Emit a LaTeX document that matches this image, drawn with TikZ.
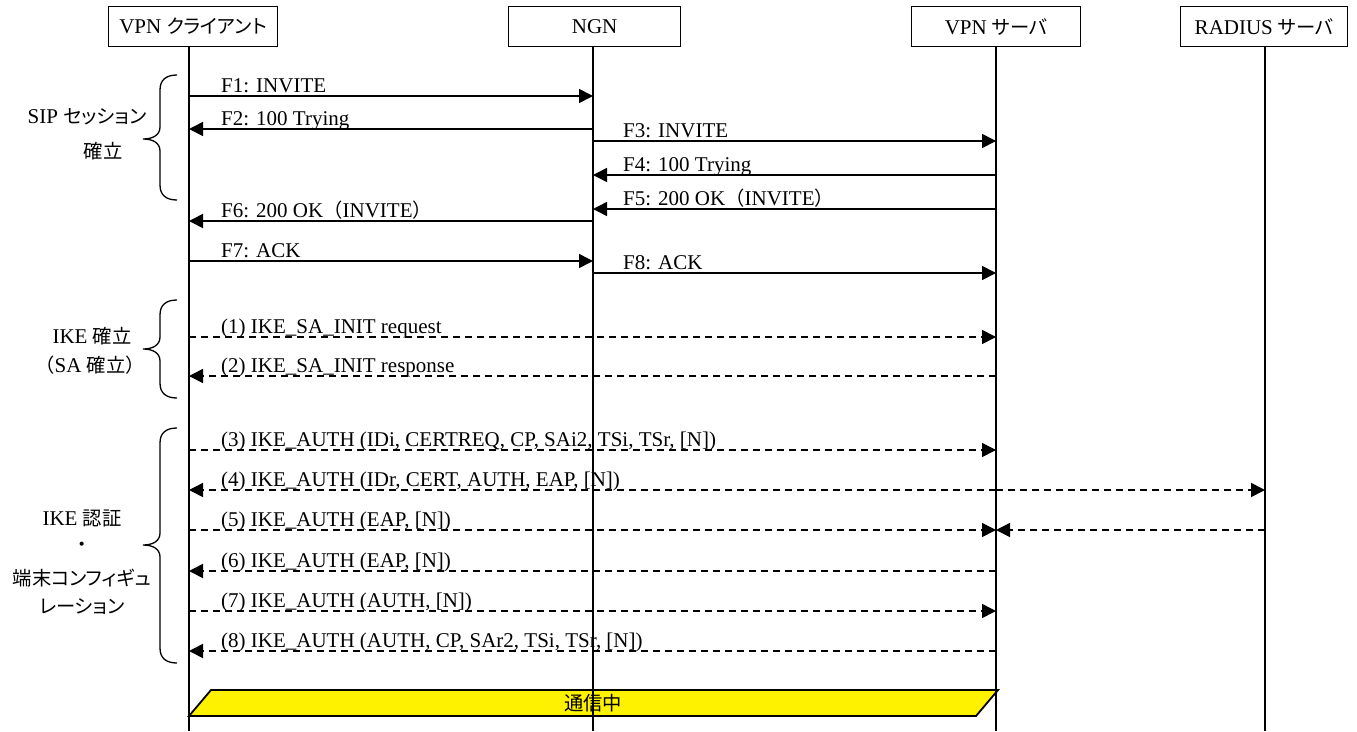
\documentclass[tikz,border=0pt]{standalone}
\usepackage{fontspec}
\setmainfont{Liberation Serif}
\newfontfamily\jp[Scale=0.92,RawFeature={+palt}]{Noto Sans CJK JP}
\newfontfamily\jpf[Scale=0.92]{Noto Sans CJK JP}
\usetikzlibrary{arrows.meta}
\newcommand{\grpbrace}[3]{%
  \draw[brc] (177,#1) .. controls (166,#1) and (160,#1+5) .. (160,#1+15)
    -- (160,#2-12) .. controls (160,#2-4) and (153,#2) .. (143,#2)
    .. controls (153,#2) and (160,#2+4) .. (160,#2+12)
    -- (160,#3-15) .. controls (160,#3-5) and (166,#3) .. (177,#3);}
\begin{document}
\begin{tikzpicture}[x=1pt,y=-1pt,
  txt/.style={font=\fontsize{21}{25}\selectfont, inner sep=0pt},
  box/.style={txt, draw, line width=1.2pt, minimum width=#1, minimum height=40pt, anchor=north west},
  lbl/.style={txt, anchor=base west},
  life/.style={line width=1.3pt},
  msg/.style={line width=1.6pt, -{Triangle[length=14pt,width=14pt]}},
  dmsg/.style={msg, dash pattern=on 7pt off 5pt},
  grp/.style={txt, align=center},
  brc/.style={line width=1.3pt}
]
\useasboundingbox (0,0) rectangle (1357,731);

% participants
\node[box=169] (client) at (108,6) {VPN {\jp クライアント}};
\node[box=172] (ngn) at (508,6) {NGN};
\node[box=169] (server) at (911,6) {VPN {\jp サーバ}};
\node[box=167] (radius) at (1180,6) {RADIUS {\jp サーバ}};

% communicating bar
\draw[line width=1.8pt, fill=yellow] (211,690) -- (998,690) -- (976,716) -- (189,716) -- cycle;
\node[txt] (comm) at (593,703) {\jp 通信中};

% lifelines
\coordinate (Ct) at (189,46); \coordinate (Cb) at (189,731);
\coordinate (Nt) at (593,46); \coordinate (Nb) at (593,731);
\coordinate (St) at (996,46); \coordinate (Sb) at (996,731);
\coordinate (Rt) at (1265,46); \coordinate (Rb) at (1265,731);
\draw[life] (Ct) -- (Cb);
\draw[life] (Nt) -- (Nb);
\draw[life] (St) -- (Sb);
\draw[life] (Rt) -- (Rb);

% message rows
\foreach \r/\y in {1/96,2/129,3/141,4/175,5/209,6/221,7/261,8/273,i1/337,i2/376,a3/450,a4/490,a5/530,a6/571,a7/611,a8/651}{
  \coordinate (C\r) at (189,\y);
  \coordinate (N\r) at (593,\y);
  \coordinate (S\r) at (996,\y);
  \coordinate (R\r) at (1265,\y);
}

% SIP
\draw[msg] (C1) -- (N1);
\node[lbl] (l1) at ([xshift=32pt,yshift=4pt]C1) {F1: INVITE};
\draw[msg] (N2) -- (C2);
\node[lbl] (l2) at ([xshift=32pt,yshift=4pt]C2) {F2: 100 Trying};
\draw[msg] (N3) -- (S3);
\node[lbl] (l3) at ([xshift=30pt,yshift=4pt]N3) {F3: INVITE};
\draw[msg] (S4) -- (N4);
\node[lbl] (l4) at ([xshift=30pt,yshift=4pt]N4) {F4: 100 Trying};
\draw[msg] (S5) -- (N5);
\node[lbl] (l5) at ([xshift=30pt,yshift=4pt]N5) {F5: 200 OK{\jpf （}INVITE{\jpf ）}};
\draw[msg] (N6) -- (C6);
\node[lbl] (l6) at ([xshift=32pt,yshift=4pt]C6) {F6: 200 OK{\jpf （}INVITE{\jpf ）}};
\draw[msg] (C7) -- (N7);
\node[lbl] (l7) at ([xshift=32pt,yshift=4pt]C7) {F7: ACK};
\draw[msg] (N8) -- (S8);
\node[lbl] (l8) at ([xshift=30pt,yshift=4pt]N8) {F8: ACK};

% IKE SA INIT
\draw[dmsg] (Ci1) -- (Si1);
\node[lbl] (m1) at ([xshift=32pt,yshift=4pt]Ci1) {(1) IKE\_SA\_INIT request};
\draw[dmsg] (Si2) -- (Ci2);
\node[lbl] (m2) at ([xshift=32pt,yshift=4pt]Ci2) {(2) IKE\_SA\_INIT response};

% IKE AUTH
\draw[dmsg] (Ca3) -- (Sa3);
\node[lbl] (m3) at ([xshift=32pt,yshift=4pt]Ca3) {(3) IKE\_AUTH (IDi, CERTREQ, CP, SAi2, TSi, TSr, [N])};
\draw[dmsg] (Sa4) -- (Ca4);
\draw[dmsg] (Sa4) -- (Ra4);
\node[lbl] (m4) at ([xshift=32pt,yshift=4pt]Ca4) {(4) IKE\_AUTH (IDr, CERT, AUTH, EAP, [N])};
\draw[dmsg] (Ca5) -- (Sa5);
\draw[dmsg] (Ra5) -- (Sa5);
\node[lbl] (m5) at ([xshift=32pt,yshift=4pt]Ca5) {(5) IKE\_AUTH (EAP, [N])};
\draw[dmsg] (Sa6) -- (Ca6);
\node[lbl] (m6) at ([xshift=32pt,yshift=4pt]Ca6) {(6) IKE\_AUTH (EAP, [N])};
\draw[dmsg] (Ca7) -- (Sa7);
\node[lbl] (m7) at ([xshift=32pt,yshift=4pt]Ca7) {(7) IKE\_AUTH (AUTH, [N])};
\draw[dmsg] (Sa8) -- (Ca8);
\node[lbl] (m8) at ([xshift=32pt,yshift=4pt]Ca8) {(8) IKE\_AUTH (AUTH, CP, SAr2, TSi, TSr, [N])};

% group braces and labels
\grpbrace{75}{139}{200}
\node[grp] (g1a) at (87,117) {SIP {\jp セッション}};
\node[grp] (g1b) at (103,151) {\jp 確立};

\grpbrace{300}{349}{398}
\node[grp] (g2a) at (92,336) {IKE {\jp 確立}};
\node[grp] (g2b) at (90,365) {{\jpf （}SA {\jp 確立}{\jpf ）}};

\grpbrace{428}{545}{663}
\node[grp] (g3a) at (82,518) {IKE {\jp 認証}};
\node[grp] (g3b) at (82,547) {\jpf ・};
\node[grp] (g3c) at (82,578) {\jp 端末コンフィギュ};
\node[grp] (g3d) at (82,607) {\jp レーション};
\end{tikzpicture}
\end{document}
